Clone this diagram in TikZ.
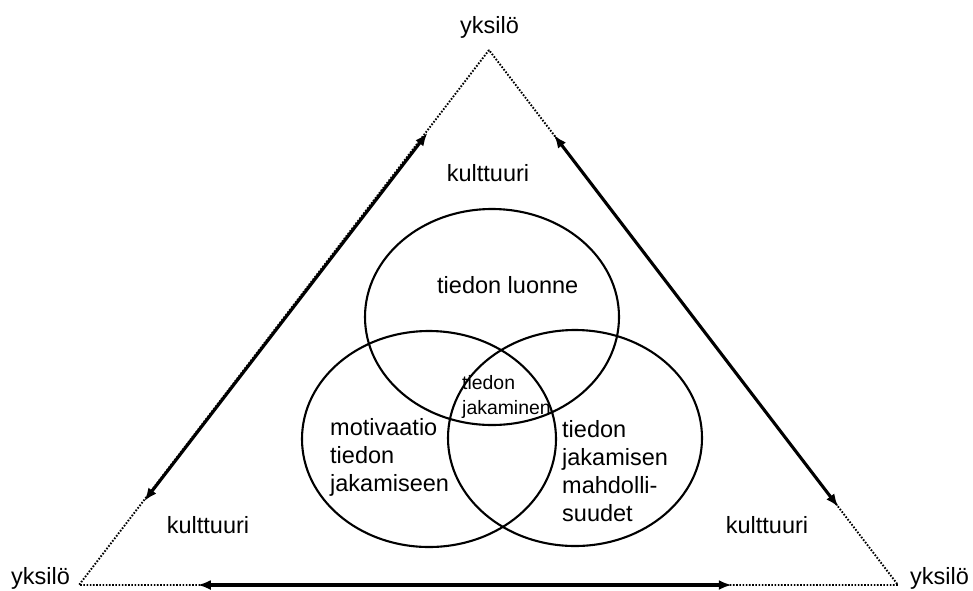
\documentclass[tikz,border=0pt]{standalone}
\usepackage{fontspec}
\setmainfont{Liberation Sans}
\usetikzlibrary{arrows.meta,calc,shapes.geometric}
\begin{document}
\begin{tikzpicture}[x=1pt,y=-1pt,
  lbl/.style={inner sep=0pt,font=\fontsize{23.5}{28}\selectfont},
  smalllbl/.style={inner sep=0pt,font=\fontsize{19.4}{25}\selectfont},
  side/.style={line width=1.9pt,dash pattern=on 1.6pt off 1.6pt},
  dblarrow/.style={line width=3.1pt,{Latex[length=13pt,width=10pt]}-{Latex[length=13pt,width=10pt]}},
  venn/.style={draw,ellipse,line width=2.1pt,minimum width=254pt,minimum height=216pt,inner sep=0pt}]
\useasboundingbox (0,0) rectangle (973,590);
% triangle corners
\coordinate (A) at (489,50);
\coordinate (B) at (79,585);
\coordinate (C) at (898,585);
\draw[side] (A) -- (B) -- (C) -- cycle;
% arrows along the sides
\coordinate (L1) at ($(A)!0.155!(B)+(2,0)$);
\coordinate (L2) at ($(A)!0.843!(B)+(1,0)$);
\coordinate (R1) at ($(A)!0.159!(C)$);
\coordinate (R2) at ($(A)!0.854!(C)$);
\coordinate (D1) at ($(B)!0.145!(C)$);
\coordinate (D2) at ($(B)!0.797!(C)$);
\draw[dblarrow] (L1) -- (L2);
\draw[dblarrow] (R1) -- (R2);
\draw[dblarrow] (D1) -- (D2);
% corner labels
\node[lbl,anchor=base] (yt) at (489.5,33) {yksilö};
\node[lbl,anchor=base] (yl) at (40.5,584) {yksilö};
\node[lbl,anchor=base] (yr) at (939.5,584) {yksilö};
\node[lbl,anchor=base] (kt) at (488,181) {kulttuuri};
\node[lbl,anchor=base] (kl) at (208,533) {kulttuuri};
\node[lbl,anchor=base] (kr) at (767,533) {kulttuuri};
% venn ellipses
\node[venn] (e1) at (492,317) {};
\node[venn] (e2) at (429,439) {};
\node[venn] (e3) at (575,438) {};
% venn texts
\node[lbl,anchor=base west] (t1) at (437,293) {tiedon luonne};
\node[smalllbl,anchor=north west,align=left] (t0) at (462,375) {tiedon\\jakaminen};
\node[lbl,anchor=north west,align=left] (t2) at (330,418) {motivaatio\\tiedon\\jakamiseen};
\node[lbl,anchor=north west,align=left] (t3) at (562,420) {tiedon\\jakamisen\\mahdolli-\\suudet};
\end{tikzpicture}
\end{document}
